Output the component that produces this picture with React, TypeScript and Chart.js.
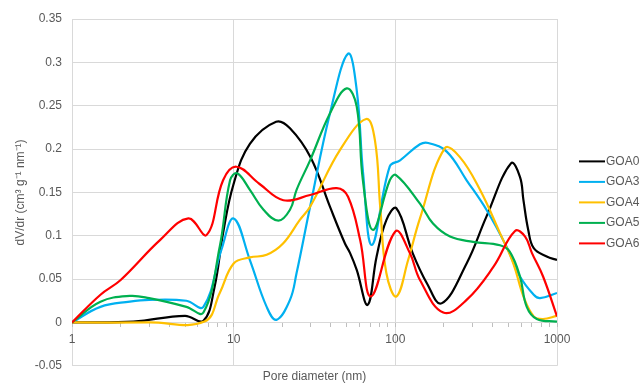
import React, { useEffect, useRef } from 'react';
import { Chart, registerables } from 'chart.js';

Chart.register(...registerables);

const FONT = '"Liberation Sans", Arial, sans-serif';
const TEXT_COLOR = '#595959';
const GRID_COLOR = '#d9d9d9';

const SERIES_NAMES = ['GOA0', 'GOA3', 'GOA4', 'GOA5', 'GOA6'];
const SERIES_COLORS = ['#000000', '#00B0F0', '#FFC000', '#00B050', '#FF0000'];

const X_TITLE = 'Pore diameter (nm)';
const Y_TITLE = 'dV/dr (cm³ g⁻¹ nm⁻¹)';

const X_TICKS = [1, 2, 3, 4, 5, 6, 7, 8, 9, 10, 20, 30, 40, 50, 60, 70, 80, 90, 100, 200, 300, 400, 500, 600, 700, 800, 900, 1000];
const X_LABELS = [1, 10, 100, 1000];
const Y_MIN = -0.05;
const Y_MAX = 0.35;
const Y_STEP = 0.05;

// GOA0 (black)
const goa0D = [1, 2.4, 5, 6.5, 7.6, 8.6, 10, 12.6, 18.3, 22.3, 30, 39.4, 48.8, 52.5, 57.7, 67.4, 76.6, 88, 101.5, 128, 157, 193, 276, 366, 519, 590, 620, 664, 718, 864, 1000];
const goa0V = [0, 0.001, 0.0076, 0.002, 0.04, 0.103, 0.16, 0.206, 0.2315, 0.224, 0.19, 0.1335, 0.091, 0.08, 0.0606, 0.0203, 0.076, 0.118, 0.1317, 0.08, 0.045, 0.022, 0.068, 0.122, 0.1835, 0.168, 0.141, 0.1067, 0.0856, 0.076, 0.072];

// GOA3 (blue)
const goa3D = [1, 1.5, 2.28, 3, 5.1, 6.5, 8.4, 10, 12.6, 16, 18.4, 22.3, 24.5, 29.7, 39.4, 51, 57.7, 63.2, 71.6, 92.4, 107, 142, 160, 208, 276, 366, 487, 590, 718, 785, 1000];
const goa3V = [0, 0.018, 0.024, 0.026, 0.025, 0.018, 0.084, 0.12, 0.072, 0.018, 0.003, 0.026, 0.057, 0.1335, 0.241, 0.31, 0.268, 0.172, 0.0894, 0.18, 0.187, 0.2055, 0.207, 0.197, 0.164, 0.13, 0.0875, 0.053, 0.032, 0.028, 0.034];

// GOA4 (orange)
const goa4D = [1, 3, 6.6, 8.2, 10, 12.6, 16, 20.2, 25.6, 29.7, 45.5, 66, 74.8, 80.6, 88, 101.5, 120, 142, 202, 250, 334, 444, 537, 620, 718, 820, 1000];
const goa4V = [0, 0, 0.001, 0.034, 0.068, 0.075, 0.078, 0.091, 0.118, 0.1335, 0.199, 0.2346, 0.21, 0.1335, 0.057, 0.03, 0.072, 0.12, 0.2008, 0.191, 0.153, 0.103, 0.068, 0.03, 0.007, 0.004, 0.0076];

// GOA5 (green)
const goa5D = [1, 1.5, 2.28, 3, 5.1, 6.5, 8.2, 9.5, 10.5, 12.6, 15.3, 18.9, 22.3, 24.5, 29.7, 39.4, 50, 57.7, 63, 72.7, 92.4, 101, 142, 171, 218, 303, 444, 510, 590, 650, 750, 1000];
const goa5V = [0, 0.024, 0.0306, 0.028, 0.018, 0.0114, 0.0874, 0.164, 0.172, 0.153, 0.13, 0.1174, 0.13, 0.153, 0.187, 0.241, 0.27, 0.249, 0.164, 0.1067, 0.164, 0.17, 0.137, 0.114, 0.099, 0.093, 0.089, 0.0817, 0.053, 0.018, 0.004, 0.001];

// GOA6 (red)
const goa6D = [1, 1.5, 2, 3.5, 5.24, 6.81, 8.6, 10.4, 14.4, 20.3, 29.7, 43.4, 51, 60.6, 70.7, 100, 123, 142, 198, 276, 404, 550, 635, 700, 820, 1000];
const goa6V = [0, 0.032, 0.049, 0.095, 0.12, 0.101, 0.164, 0.1796, 0.16, 0.141, 0.147, 0.155, 0.145, 0.095, 0.03, 0.105, 0.08, 0.049, 0.0114, 0.026, 0.064, 0.1055, 0.099, 0.08, 0.053, 0.007];

const SERIES_D = [goa0D, goa3D, goa4D, goa5D, goa6D];
const SERIES_V = [goa0V, goa3V, goa4V, goa5V, goa6V];

const overlayPlugin = {
  id: 'overlay',
  afterDraw(chart: any) {
    const ctx = chart.ctx;
    const a = chart.chartArea;
    ctx.save();
    ctx.font = `12px ${FONT}`;
    ctx.fillStyle = TEXT_COLOR;
    ctx.textAlign = 'center';
    ctx.textBaseline = 'middle';
    ctx.fillText(X_TITLE, (a.left + a.right) / 2, a.bottom + 11);

    const lx0 = a.right + 22;
    const lx1 = a.right + 48;
    const startY = (a.top + a.bottom) / 2 - 31;
    const gap = 20.5;
    chart.data.datasets.forEach((ds: any, i: number) => {
      const y = startY + i * gap;
      ctx.beginPath();
      ctx.strokeStyle = ds.borderColor;
      ctx.lineWidth = 2;
      ctx.moveTo(lx0, y);
      ctx.lineTo(lx1, y);
      ctx.stroke();
      ctx.fillStyle = TEXT_COLOR;
      ctx.textAlign = 'left';
      ctx.textBaseline = 'middle';
      ctx.fillText(ds.label, lx1 + 1, y);
    });
    ctx.restore();
  },
};

export default function App() {
  const ref = useRef<HTMLCanvasElement | null>(null);

  useEffect(() => {
    if (!ref.current) return;
    Chart.defaults.font.family = FONT;
    const datasets = SERIES_NAMES.map((name, i) => ({
      label: name,
      data: SERIES_D[i].map((d, j) => ({ x: d, y: SERIES_V[i][j] })),
      borderColor: SERIES_COLORS[i],
      backgroundColor: SERIES_COLORS[i],
      borderWidth: 2.2,
      pointRadius: 0,
      tension: 0.4,
      fill: false,
      order: SERIES_NAMES.length - i,
    }));

    const chart = new Chart(ref.current, {
      type: 'line',
      data: { datasets },
      plugins: [overlayPlugin],
      options: {
        animation: false,
        responsive: true,
        maintainAspectRatio: false,
        layout: { padding: { left: 0, top: 19, right: 85, bottom: 17 } },
        plugins: { legend: { display: false }, tooltip: { enabled: false } },
        scales: {
          x: {
            type: 'logarithmic',
            min: 1,
            max: 1000,
            position: { y: 0 },
            afterBuildTicks: (s: any) => {
              s.ticks = X_TICKS.map((v) => ({ value: v, major: X_LABELS.includes(v) }));
            },
            ticks: {
              autoSkip: false,
              maxRotation: 0,
              padding: 6,
              color: TEXT_COLOR,
              font: { size: 12 },
              callback: (v: any) => (X_LABELS.includes(Number(v)) ? String(v) : ''),
            },
            grid: {
              color: (c: any) => (c.tick && X_LABELS.includes(c.tick.value) ? GRID_COLOR : 'rgba(0,0,0,0)'),
              tickColor: '#bfbfbf',
              tickLength: 4,
              drawTicks: true,
            },
            border: { display: true, color: GRID_COLOR },
          },
          y: {
            type: 'linear',
            min: Y_MIN,
            max: Y_MAX,
            afterFit: (s: any) => {
              s.width = 72;
            },
            ticks: {
              stepSize: Y_STEP,
              padding: 10,
              color: TEXT_COLOR,
              font: { size: 12 },
              callback: (v: any) => String(Number(Number(v).toFixed(2))),
            },
            grid: { color: GRID_COLOR, drawTicks: false },
            border: { display: false },
            title: {
              display: true,
              text: Y_TITLE,
              color: TEXT_COLOR,
              font: { size: 12 },
              padding: { top: 13, bottom: 0 },
            },
          },
        },
      } as any,
    });
    return () => chart.destroy();
  }, []);

  return (
    <div style={{ position: 'fixed', left: 0, top: 0, width: 642, height: 383, background: '#fff' }}>
      <canvas ref={ref} style={{ display: 'block' }} />
    </div>
  );
}
